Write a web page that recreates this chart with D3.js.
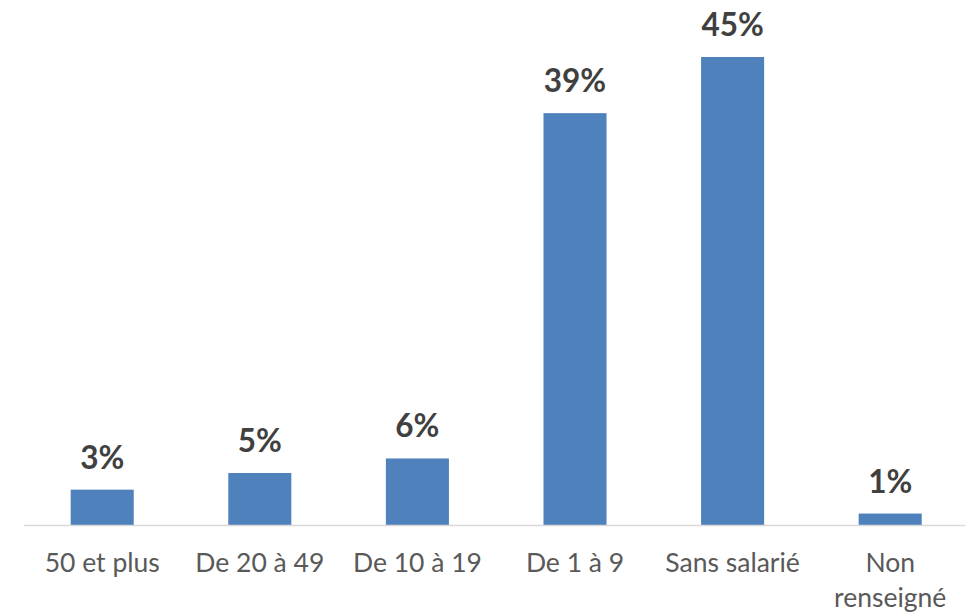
<!DOCTYPE html>
<html>
<head>
<meta charset="utf-8">
<script src="https://cdn.jsdelivr.net/npm/d3@7"></script>
<style>
  html, body { margin: 0; padding: 0; background: #fff; }
</style>
</head>
<body>
<div id="dataviz"></div>
<script>
// categories and values (share in %)
var categories = ["50 et plus", "De 20 à 49", "De 10 à 19", "De 1 à 9", "Sans salarié", "Non renseigné"];
var values = [3.4, 5.0, 6.4, 39.6, 45.0, 1.1];
var valueLabels = ["3%", "5%", "6%", "39%", "45%", "1%"];

var widthFull = 965;
var heightFull = 613;
var baseline = 525;

var svg = d3.select("#dataviz").append("svg")
    .attr("width", widthFull)
    .attr("height", heightFull)
    .style("display", "block");

// scales
var x = d3.scaleBand()
    .domain(categories)
    .range([23.4, 969])
    .paddingInner(0.6)
    .paddingOuter(0.3);

var y = d3.scaleLinear()
    .domain([0, 45])
    .range([baseline, 57]);

// bars
svg.selectAll("rect.bar")
    .data(values)
    .enter().append("rect")
    .attr("class", "bar")
    .attr("x", (d, i) => x(categories[i]))
    .attr("y", d => y(d))
    .attr("width", x.bandwidth())
    .attr("height", d => y(0) - y(d))
    .attr("fill", "#4f81bd");

// x axis line
var xAxis = svg.append("g")
    .attr("transform", "translate(0," + baseline + ")")
    .call(d3.axisBottom(x).tickSize(0).tickSizeOuter(0).tickFormat(""));
xAxis.select(".domain").attr("stroke", "#d9d9d9").attr("stroke-width", 1.5);

// category labels (wrap "Non renseigné")
xAxis.selectAll(".tick text").remove();
xAxis.selectAll(".tick").append("text")
    .attr("fill", "#595959")
    .attr("text-anchor", "middle")
    .style("font-family", "Lato, 'Open Sans', sans-serif")
    .style("font-size", "26.5px")
    .each(function(d) {
        var words = d === "Non renseigné" ? ["Non", "renseigné"] : [d];
        var t = d3.select(this);
        words.forEach(function(w, k) {
            t.append("tspan").attr("x", 0).attr("y", 47 + k * 35).text(w);
        });
    });

// value labels
svg.selectAll("text.val")
    .data(values)
    .enter().append("text")
    .attr("class", "val")
    .attr("x", (d, i) => x(categories[i]) + x.bandwidth() / 2)
    .attr("y", d => y(d) - 21)
    .attr("text-anchor", "middle")
    .attr("fill", "#404040")
    .style("font-family", "Lato, 'Open Sans', sans-serif")
    .style("font-weight", "bold")
    .style("font-size", "31.5px")
    .text((d, i) => valueLabels[i]);
</script>
</body>
</html>
